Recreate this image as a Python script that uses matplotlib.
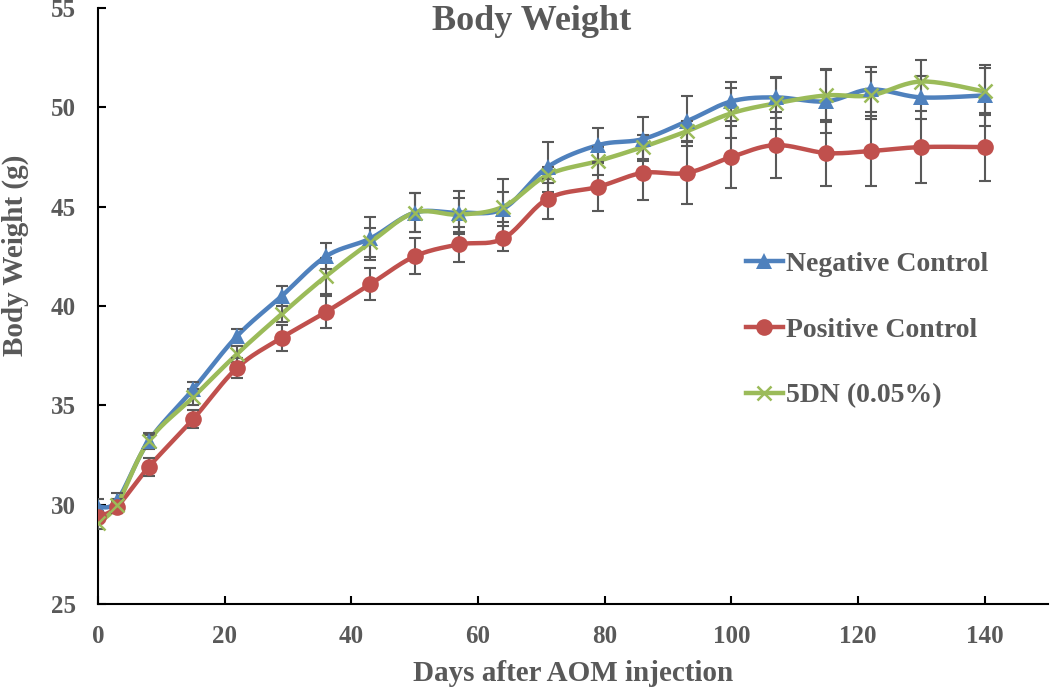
import numpy as np
import matplotlib
matplotlib.use('Agg')
import matplotlib.pyplot as plt
from matplotlib.lines import Line2D

days = [0, 3, 8, 15, 22, 29, 36, 43, 50, 57, 64, 71, 79, 86, 93, 100, 107, 115, 122, 130, 140]
neg = [29.9, 30.2, 33.2, 35.8, 38.5, 40.5, 42.5, 43.4, 44.7, 44.7, 44.9, 47.0, 48.1, 48.4, 49.3,
       50.3, 50.5, 50.3, 50.9, 50.5, 50.6]
neg_err = [0.4, 0.4, 0.4, 0.35, 0.35, 0.5, 0.65, 1.1, 1.0, 1.1, 1.5, 1.25, 0.85, 1.1, 1.25,
           1.0, 1.05, 1.6, 1.15, 1.1, 1.55]
pos = [29.4, 29.9, 31.9, 34.3, 36.9, 38.4, 39.7, 41.1, 42.5, 43.1, 43.4, 45.4, 46.0, 46.7, 46.7,
       47.5, 48.1, 47.7, 47.8, 48.0, 48.0]
pos_err = [0.3, 0.3, 0.45, 0.45, 0.5, 0.65, 0.8, 0.8, 0.9, 0.9, 0.65, 1.0, 1.2, 1.35, 1.55,
           1.55, 1.65, 1.65, 1.75, 1.8, 1.7]
dn = [29.1, 30.0, 33.2, 35.4, 37.6, 39.6, 41.5, 43.2, 44.7, 44.6, 45.0, 46.6, 47.3, 48.0, 48.8,
      49.7, 50.2, 50.6, 50.6, 51.3, 50.8]
dn_err = [0.3, 0.3, 0.3, 0.4, 0.4, 0.4, 0.9, 0.75, 1.0, 0.85, 0.75, 0.4, 0.7, 0.6, 0.5,
          1.25, 1.3, 1.35, 1.2, 1.1, 1.2]

labels = ["Negative Control", "Positive Control", "5DN (0.05%)"]
colors = ["#4F81BD", "#C0504D", "#9BBB59"]
markers = ["^", "o", "x"]
msizes = [12, 12, 10]

TXT = "#595959"
FONT = "Liberation Serif"

XMIN, XMAX, YMIN, YMAX = 0, 150, 25, 55

fig = plt.figure(figsize=(10.5, 6.9), dpi=100)
ax = fig.add_axes([98 / 1050, 86 / 690, 950 / 1050, 596 / 690])
W_PX, H_PX = 950.0, 596.0


def smooth(x, y, n=20):
    # Catmull-Rom style Bezier smoothing in screen-proportional space (Excel-like)
    x = np.asarray(x, float)
    y = np.asarray(y, float)
    px = (x - XMIN) / (XMAX - XMIN) * W_PX
    py = (y - YMIN) / (YMAX - YMIN) * H_PX
    P = np.column_stack([px, py])
    P = np.vstack([P[0], P, P[-1]])
    out = []
    t = np.linspace(0, 1, n, endpoint=False)
    for i in range(1, len(P) - 2):
        p0, p1, p2, p3 = P[i - 1], P[i], P[i + 1], P[i + 2]
        b1 = p1 + (p2 - p0) / 6.0
        b2 = p2 - (p3 - p1) / 6.0
        for tt in t:
            pt = ((1 - tt) ** 3) * p1 + 3 * ((1 - tt) ** 2) * tt * b1 + 3 * (1 - tt) * tt ** 2 * b2 + tt ** 3 * p2
            out.append(pt)
    out.append(P[-2])
    out = np.array(out)
    sx = out[:, 0] / W_PX * (XMAX - XMIN) + XMIN
    sy = out[:, 1] / H_PX * (YMAX - YMIN) + YMIN
    return sx, sy


series = [(neg, neg_err), (pos, pos_err), (dn, dn_err)]
handles = []
for (vals, errs), lab, c, m, ms in zip(series, labels, colors, markers, msizes):
    sx, sy = smooth(days, vals)
    ax.plot(sx, sy, color=c, lw=3.2, zorder=2, solid_capstyle='round')
    ax.errorbar(days, vals, yerr=errs, fmt='none', ecolor="#595959", elinewidth=1.5,
                capsize=4.5, capthick=1.5, zorder=3)
    if m == 'x':
        ax.plot(days, vals, linestyle='none', marker=m, ms=ms, mew=1.8, color=c, zorder=4)
    else:
        ax.plot(days, vals, linestyle='none', marker=m, ms=ms, mew=0, color=c, zorder=4)
    handles.append(Line2D([], [], color=c, lw=3.2, marker=m, ms=ms,
                          mew=(1.8 if m == 'x' else 0)))

ax.set_xlim(XMIN, XMAX)
ax.set_ylim(YMIN, YMAX)
ax.set_xticks(np.arange(0, 141, 20))
ax.set_yticks(np.arange(25, 56, 5))
for s in ['top', 'right']:
    ax.spines[s].set_visible(False)
for s in ['left', 'bottom']:
    ax.spines[s].set_linewidth(1.5)
    ax.spines[s].set_color('black')
ax.tick_params(direction='in', length=6, width=1.5, colors='black')
ax.tick_params(axis='y', pad=16)
ax.tick_params(axis='x', pad=15)
for lbl in ax.get_xticklabels() + ax.get_yticklabels():
    lbl.set_fontfamily(FONT)
    lbl.set_fontweight('bold')
    lbl.set_fontsize(18)
    lbl.set_color(TXT)

ax.set_xlabel("Days after AOM injection", fontfamily=FONT, fontweight='bold', fontsize=21,
              color=TXT, labelpad=9)
ax.set_ylabel("Body Weight (g)", fontfamily=FONT, fontweight='bold', fontsize=21,
              color=TXT)
ax.yaxis.set_label_coords(-0.073, 0.585)
fig.text(532 / 1050, 1 - 22 / 690, "Body Weight", fontfamily=FONT, fontweight='bold',
         fontsize=26, color=TXT, ha='center', va='center')

leg = ax.legend(handles, labels, loc='upper left', bbox_to_anchor=(0.67, 0.61),
                frameon=False, numpoints=1, handlelength=1.35, handletextpad=0.1,
                labelspacing=1.45, prop={'family': FONT, 'weight': 'bold', 'size': 20},
                borderaxespad=0)
for t in leg.get_texts():
    t.set_color(TXT)

fig.savefig("out.png", dpi=100)
